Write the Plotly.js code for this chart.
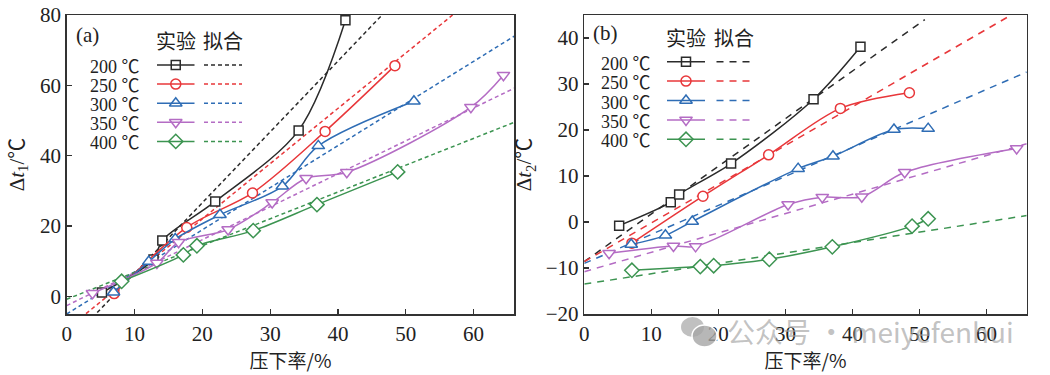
<!DOCTYPE html>
<html>
<head>
<meta charset="utf-8">
<script src="https://cdn.plot.ly/plotly-3.0.1.min.js"></script>
<style>html,body{margin:0;padding:0;background:#fff;}#chart{width:1050px;height:375px;}</style>
</head>
<body>
<div id="chart"></div>
<script>
// ---------- data ----------
const seriesNames = ['200', '250', '300', '350', '400'];
const unitLabel = '℃';
const colors = ['#2b2b2b', '#e8373a', '#2f6db5', '#b46cc4', '#3c9451'];
const symbols = ['square', 'circle', 'triangle-up', 'triangle-down', 'diamond'];
const markerSizes = [9, 10, 11, 11, 11];

// panel (a): Δt1 experiment
const xA200 = [5.2, 12.8, 14.1, 21.9, 34.2, 41.1];
const yA200 = [1.1, 10.5, 15.9, 27.0, 47.2, 78.5];
const xA250 = [7.0, 17.7, 27.4, 38.1, 48.4];
const yA250 = [0.8, 19.6, 29.4, 46.9, 65.6];
const xA300 = [6.9, 12.1, 16.0, 22.6, 31.8, 37.1, 51.2];
const yA300 = [1.2, 9.9, 16.3, 23.2, 31.3, 42.8, 55.5];
const xA350 = [3.8, 13.3, 16.5, 23.8, 30.3, 35.3, 41.3, 59.6, 64.4];
const yA350 = [0.9, 9.5, 15.4, 19.0, 26.7, 33.6, 35.3, 53.8, 62.9];
const xA400 = [8.1, 17.2, 19.2, 27.5, 36.9, 48.8];
const yA400 = [4.3, 11.8, 14.4, 18.7, 26.1, 35.4];
// panel (a): fitted lines (end points)
const fitXA200 = [4.5, 46.5],  fitYA200 = [-4.6, 80];
const fitXA250 = [2.85, 56.9], fitYA250 = [-4.9, 80];
const fitXA300 = [0, 66],      fitYA300 = [-5.0, 74.0];
const fitXA350 = [0, 66],      fitYA350 = [-2.6, 59.2];
const fitXA400 = [0, 66],      fitYA400 = [-0.8, 49.5];

// panel (b): Δt2 experiment
const xB200 = [5.2, 12.9, 14.15, 21.9, 34.2, 41.2];
const yB200 = [-0.8, 4.3, 6.0, 12.7, 26.7, 38.1];
const xB250 = [7.1, 17.7, 27.5, 38.2, 48.5];
const yB250 = [-4.6, 5.6, 14.6, 24.7, 28.1];
const xB300 = [7.0, 12.1, 16.1, 31.9, 37.1, 46.2, 51.3];
const yB300 = [-4.9, -2.9, 0.1, 11.6, 14.3, 20.1, 20.3];
const xB350 = [3.7, 13.3, 16.6, 30.4, 35.5, 41.4, 47.8, 64.5];
const yB350 = [-6.8, -5.2, -5.3, 3.8, 5.4, 5.5, 10.8, 16.0];
const xB400 = [7.1, 17.3, 19.3, 27.6, 37.0, 48.9, 51.3];
const yB400 = [-10.5, -9.7, -9.5, -8.1, -5.4, -0.9, 0.7];
// panel (b): fitted lines (end points)
const fitXB200 = [0, 50.8], fitYB200 = [-8.6, 44.0];
const fitXB250 = [0, 63.1], fitYB250 = [-8.6, 44.5];
const fitXB300 = [0, 66],   fitYB300 = [-9.0, 32.6];
const fitXB350 = [0, 66],   fitYB350 = [-10.8, 17.0];
const fitXB400 = [0, 66],   fitYB400 = [-13.5, 1.4];

const xTicks = [0, 10, 20, 30, 40, 50, 60];
const yTicksA = [0, 20, 40, 60, 80];
const yTicksB = [-20, -10, 0, 10, 20, 30, 40];

// ---------- build ----------
const expA = [[xA200, yA200], [xA250, yA250], [xA300, yA300], [xA350, yA350], [xA400, yA400]];
const fitA = [[fitXA200, fitYA200], [fitXA250, fitYA250], [fitXA300, fitYA300], [fitXA350, fitYA350], [fitXA400, fitYA400]];
const expB = [[xB200, yB200], [xB250, yB250], [xB300, yB300], [xB350, yB350], [xB400, yB400]];
const fitB = [[fitXB200, fitYB200], [fitXB250, fitYB250], [fitXB300, fitYB300], [fitXB350, fitYB350], [fitXB400, fitYB400]];

const dashA = '4px,3px';
const dashB = '7px,6px';
const traces = [];

function addPanel(exp, fit, xa, ya, dash) {
  fit.forEach((f, i) => {
    traces.push({x: f[0], y: f[1], xaxis: xa, yaxis: ya, mode: 'lines', showlegend: false, hoverinfo: 'skip',
      line: {color: colors[i], width: 1.5, dash: dash}});
  });
  exp.forEach((e, i) => {
    traces.push({x: e[0], y: e[1], xaxis: xa, yaxis: ya, mode: 'lines+markers', showlegend: false,
      line: {color: colors[i], width: 1.5, shape: 'spline', smoothing: 0.9},
      marker: {symbol: symbols[i], size: markerSizes[i], color: '#ffffff', line: {color: colors[i], width: 1.5}}});
  });
}
addPanel(expA, fitA, 'x', 'y', dashA);
addPanel(expB, fitB, 'x2', 'y2', dashB);

// ---------- custom legends (pixel layout, converted to paper fractions) ----------
const W = 1050, plotTop = 15, plotBottom = 314;
const px = v => v / W;
const py = v => (plotBottom - v) / (plotBottom - plotTop);

const legA = {labelRight: 141.5, solid: [157, 194.5], dashed: [204, 242], row0: 65, step: 19.1, head: 40};
const legB = {labelRight: 653, solid: [667, 705], dashed: [716.5, 750.5], row0: 61.7, step: 19.4, head: 38};
const annotations = [];
const shapes = [];
const labelFont = {family: 'Liberation Serif, Noto Sans CJK SC', size: 18, color: '#222'};
function addLegend(L, dash) {
  seriesNames.forEach((name, i) => {
    const yy = L.row0 + i * L.step;
    shapes.push({type: 'line', xref: 'paper', yref: 'paper', x0: px(L.solid[0]), x1: px(L.solid[1]), y0: py(yy), y1: py(yy),
      line: {color: colors[i], width: 1.5}});
    shapes.push({type: 'line', xref: 'paper', yref: 'paper', x0: px(L.dashed[0]), x1: px(L.dashed[1]), y0: py(yy), y1: py(yy),
      line: {color: colors[i], width: 1.5, dash: dash}});
    traces.push({x: [(L.solid[0] + L.solid[1]) / 2], y: [yy], xaxis: 'x3', yaxis: 'y3', mode: 'markers', showlegend: false, hoverinfo: 'skip',
      marker: {symbol: symbols[i], size: markerSizes[i], color: '#ffffff', line: {color: colors[i], width: 1.5}}});
    annotations.push({xref: 'paper', yref: 'paper', x: px(L.labelRight), y: py(yy),
      text: name + ' <span style="font-family:Noto Sans CJK SC">' + unitLabel + '</span>', showarrow: false,
      xanchor: 'right', yanchor: 'middle', font: labelFont});
  });
  annotations.push({xref: 'paper', yref: 'paper', x: px((L.solid[0] + L.solid[1]) / 2), y: py(L.head), text: '实验', showarrow: false,
    xanchor: 'center', yanchor: 'middle', font: {family: 'Noto Sans CJK SC', size: 20, color: '#222'}});
  annotations.push({xref: 'paper', yref: 'paper', x: px((L.dashed[0] + L.dashed[1]) / 2), y: py(L.head), text: '拟合', showarrow: false,
    xanchor: 'center', yanchor: 'middle', font: {family: 'Noto Sans CJK SC', size: 20, color: '#222'}});
}
addLegend(legA, dashA);
addLegend(legB, dashB);

annotations.push({xref: 'paper', yref: 'paper', x: px(74), y: py(35), text: '(a)', showarrow: false, xanchor: 'left', yanchor: 'middle',
  font: {family: 'Liberation Serif', size: 21, color: '#222'}});
annotations.push({xref: 'paper', yref: 'paper', x: px(591), y: py(33), text: '(b)', showarrow: false, xanchor: 'left', yanchor: 'middle',
  font: {family: 'Liberation Serif', size: 21, color: '#222'}});
// watermark (overlaps the tick labels, as in the reference)
annotations.push({xref: 'paper', yref: 'paper', x: px(725), y: py(331), text: '公众号 · meiyefenhui', showarrow: false, xanchor: 'left', yanchor: 'middle',
  font: {family: 'Noto Sans CJK SC', size: 28, color: 'rgba(160,160,160,0.65)'}});
shapes.push({type: 'circle', xref: 'paper', yref: 'paper', x0: px(681), x1: px(704), y0: py(317), y1: py(337), fillcolor: 'rgba(165,165,165,0.7)', line: {width: 0}});
shapes.push({type: 'circle', xref: 'paper', yref: 'paper', x0: px(692), x1: px(717), y0: py(325), y1: py(347), fillcolor: 'rgba(165,165,165,0.8)', line: {color: '#fff', width: 1.5}});

const tickFont = {family: 'Liberation Serif', size: 21, color: '#222'};
const axisBase = {showgrid: false, zeroline: false, ticks: 'inside', ticklen: 5, tickwidth: 1.2, tickcolor: '#333',
  showline: true, linecolor: '#333', linewidth: 1.5, mirror: true, tickfont: tickFont};

const layout = {
  width: 1050, height: 375,
  margin: {l: 0, r: 0, t: 15, b: 61},
  paper_bgcolor: '#ffffff', plot_bgcolor: 'rgba(0,0,0,0)',
  showlegend: false,
  xaxis: Object.assign({}, axisBase, {domain: [0.06352, 0.48981], range: [0, 66], tickvals: xTicks, anchor: 'y',
    title: {text: '压下率/%', font: {family: 'Noto Sans CJK SC', size: 19, color: '#222'}, standoff: 6}}),
  yaxis: Object.assign({}, axisBase, {domain: [0, 1], range: [-5, 80], tickvals: yTicksA, anchor: 'x',
    title: {text: 'Δ<i>t</i><sub>1</sub>/<span style="font-family:Noto Sans CJK SC">℃</span>', font: {family: 'Liberation Serif', size: 21, color: '#222'}, standoff: 14}}),
  xaxis2: Object.assign({}, axisBase, {domain: [0.55648, 0.97781], range: [0, 66], tickvals: xTicks, anchor: 'y2',
    title: {text: '压下率/%', font: {family: 'Noto Sans CJK SC', size: 19, color: '#222'}, standoff: 6}}),
  yaxis2: Object.assign({}, axisBase, {domain: [0, 1], range: [-20, 45], tickvals: yTicksB, anchor: 'x2',
    title: {text: 'Δ<i>t</i><sub>2</sub>/<span style="font-family:Noto Sans CJK SC">℃</span>', font: {family: 'Liberation Serif', size: 21, color: '#222'}, standoff: 8}}),
  xaxis3: {domain: [0, 1], range: [0, 1050], visible: false, fixedrange: true, anchor: 'y3'},
  yaxis3: {domain: [0, 1], range: [314, 15], visible: false, fixedrange: true, anchor: 'x3'},
  annotations: annotations,
  shapes: shapes
};

traces.forEach(t => { t.cliponaxis = (t.xaxis === 'x3') ? false : true; });
Plotly.newPlot('chart', traces, layout, {staticPlot: true, displayModeBar: false});
</script>
</body>
</html>
